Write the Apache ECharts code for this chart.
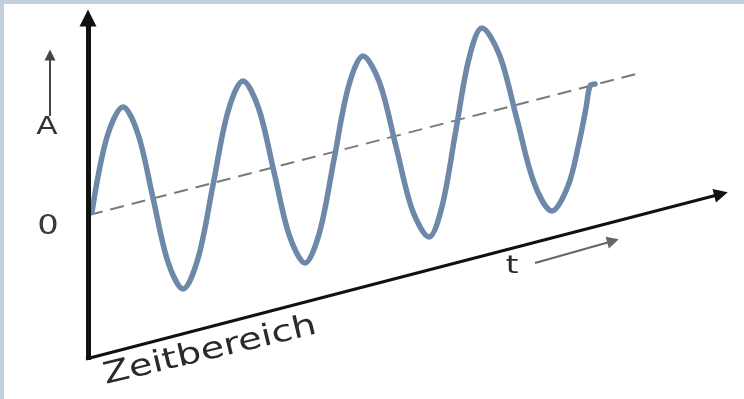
<!DOCTYPE html>
<html>
<head>
<meta charset="utf-8">
<script src="https://cdn.jsdelivr.net/npm/echarts@6/dist/echarts.min.js"></script>
<style>html,body{margin:0;padding:0;background:#fff}#c{width:744px;height:399px}</style>
</head>
<body>
<div id="c"></div>
<script>
// Diagram space: x to the right, y downward (same extent as the picture)
const wavePoints = [[92,212],[107,137],[123,107],[138,134],[153,198],[168,262],[183,289],[198,258.5],[213,185],[228,111.5],[243,81],[258.5,108],[274,172],[289.5,236],[305,263],[319.5,232.5],[334,159.5],[348.5,86.5],[363,56],[379.5,82.5],[396,146.5],[412.5,210.5],[429,237],[442,206.5],[455.5,132.5],[469,58.5],[482,28],[499.5,55],[517,119.5],[534.5,184],[552,211],[568,186],[579,143],[586,108],[590,86],[595,84]];
const meanLine = [[89,215],[636,74]];
const ampAxis = [[88,360],[88,18]];
const timeAxis = [[86,359],[721,194]];
const ampArrow = [[50,116],[50,55]];
const timeArrow = [[535,263],[613,241]];
const labelA = 'A';
const labelZero = '0';
const labelT = 't';
const labelDomain = 'Zeitbereich';

const chart = echarts.init(document.getElementById('c'), null, {renderer:'canvas'});
const font = '"DejaVu Sans", Verdana, sans-serif';
chart.setOption({
  animation: false,
  backgroundColor: '#ffffff',
  grid: {left:0, right:0, top:0, bottom:0},
  xAxis: {type:'value', min:0, max:744, show:false},
  yAxis: {type:'value', min:0, max:399, inverse:true, show:false},
  graphic: [
    {type:'rect', shape:{x:0,y:0,width:744,height:4}, style:{fill:'#c3d0db'}},
    {type:'rect', shape:{x:0,y:0,width:4,height:399}, style:{fill:'#c3d0db'}},
    {type:'text', x:47, y:128, scaleX:1.3, style:{text:labelA, font:'24px '+font, fill:'#333', align:'center', verticalAlign:'middle'}},
    {type:'text', x:48, y:227, scaleX:1.3, style:{text:labelZero, font:'26px '+font, fill:'#3a3a3a', align:'center', verticalAlign:'middle'}},
    {type:'text', x:512, y:266, scaleX:1.3, style:{text:labelT, font:'25px '+font, fill:'#2a2a2a', align:'center', verticalAlign:'middle'}},
    {type:'text', x:210, y:351, rotation:0.236, scaleX:1.28, style:{text:labelDomain, font:'30px '+font, fill:'#2a2a2a', align:'center', verticalAlign:'middle'}}
  ],
  series: [
    {type:'line', data: meanLine, showSymbol:false, silent:true, clip:false,
     lineStyle:{color:'#7a7a7a', width:2, type:[14,8]}, z:2},
    {type:'line', data: wavePoints, showSymbol:false, silent:true, clip:false,
     smooth:0.33,
     lineStyle:{color:'#6d88a8', width:5.5, cap:'round', join:'round'}, z:3},
    {type:'lines', coordinateSystem:'cartesian2d', silent:true, z:4,
     symbol:['none','triangle'], symbolSize:[20,17],
     lineStyle:{color:'#111', width:5, opacity:1},
     data:[{coords: ampAxis}]},
    {type:'lines', coordinateSystem:'cartesian2d', silent:true, z:4,
     symbol:['none','triangle'], symbolSize:[16,14],
     lineStyle:{color:'#111', width:3, opacity:1},
     data:[{coords: timeAxis}]},
    {type:'lines', coordinateSystem:'cartesian2d', silent:true, z:4,
     symbol:['none','triangle'], symbolSize:[9,11],
     lineStyle:{color:'#444', width:2, opacity:1},
     data:[{coords: ampArrow}]},
    {type:'lines', coordinateSystem:'cartesian2d', silent:true, z:4,
     symbol:['none','triangle'], symbolSize:[10,12],
     lineStyle:{color:'#666', width:2, opacity:1},
     data:[{coords: timeArrow}]}
  ]
});
</script>
</body>
</html>
